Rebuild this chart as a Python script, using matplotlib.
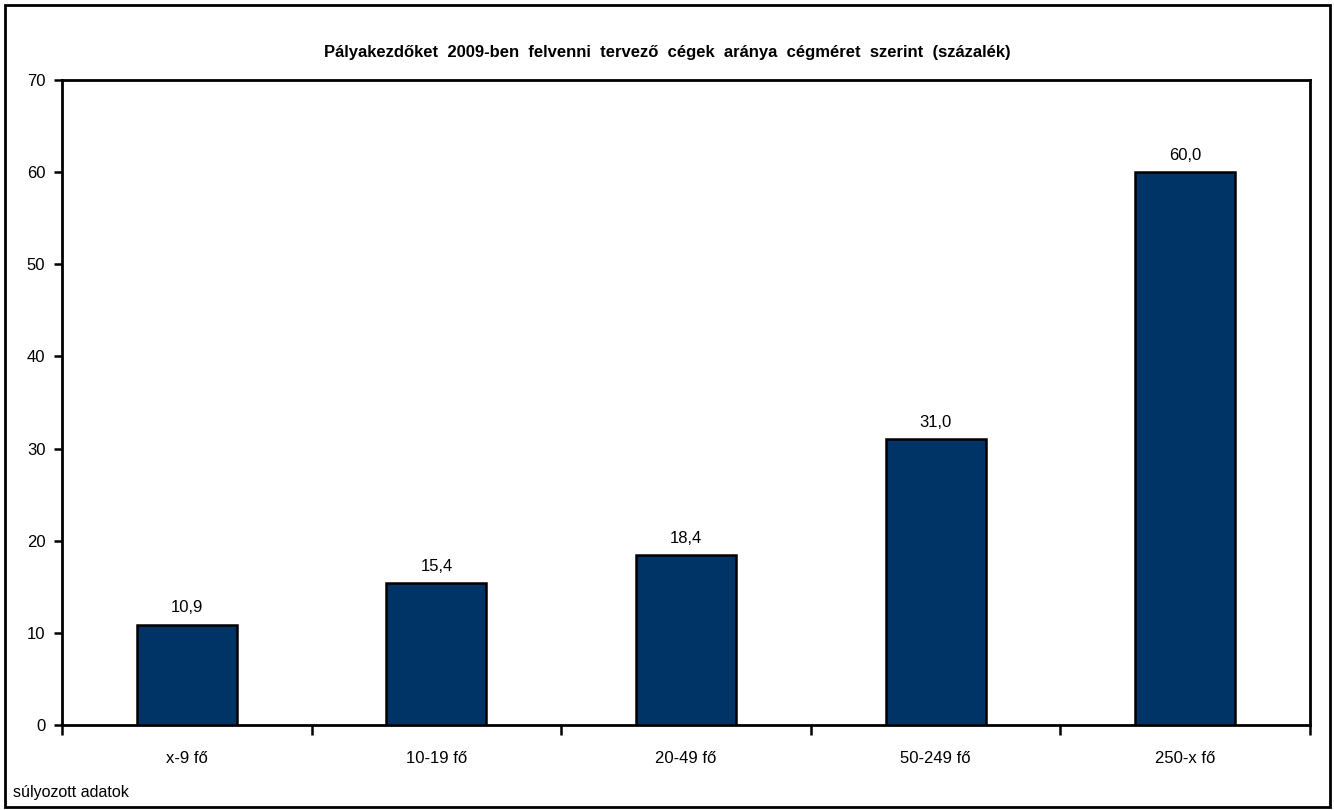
import matplotlib.pyplot as plt
from matplotlib.patches import Rectangle

# -----------------------------
# Data
# -----------------------------
categories = ["x-9 fő", "10-19 fő", "20-49 fő", "50-249 fő", "250-x fő"]
values = [10.9, 15.4, 18.4, 31.0, 60.0]
y_ticks = [0, 10, 20, 30, 40, 50, 60, 70]

title = "Pályakezdőket  2009-ben  felvenni  tervező  cégek  aránya  cégméret  szerint  (százalék)"
footnote = "súlyozott adatok"

plt.rcParams["font.family"] = ["Liberation Sans", "DejaVu Sans"]

# -----------------------------
# Figure & axes
# -----------------------------
W, H = 1334, 810
fig = plt.figure(figsize=(W / 100, H / 100), dpi=100)
ax = fig.add_axes([62 / W, 1 - 725 / H, (1310 - 62) / W, (725 - 80) / H])

x = list(range(len(categories)))
bars = ax.bar(x, values, width=0.4, color="#003366",
              edgecolor="black", linewidth=1.8, zorder=3)

for xi, v in zip(x, values):
    ax.text(xi, v + 1.0, f"{v:.1f}".replace(".", ","),
            ha="center", va="bottom", fontsize=12)

ax.set_xlim(-0.5, len(categories) - 0.5)
ax.set_ylim(0, 70)
ax.set_yticks(y_ticks)
ax.set_yticklabels([str(t) for t in y_ticks], fontsize=12)

# category ticks between bars, labels centered under bars
ax.set_xticks([i - 0.5 for i in range(len(categories) + 1)])
ax.set_xticklabels([])
ax.set_xticks(x, minor=True)
ax.set_xticklabels(categories, minor=True, fontsize=12)
ax.tick_params(axis="x", which="minor", length=0, pad=19)
ax.tick_params(axis="x", which="major", direction="out", length=7, width=1.8)
ax.tick_params(axis="y", direction="out", length=6, width=1.8, pad=6)

for s in ax.spines.values():
    s.set_linewidth(2)
    s.set_color("black")

fig.text(667 / W, 1 - 52 / H, title, ha="center", va="center",
         fontsize=12, fontweight="bold")
fig.text(13 / W, 1 - 793 / H, footnote, ha="left", va="center", fontsize=11.5)

# outer frame
fig.patches.append(Rectangle((5 / W, 3 / H), (1330 - 5) / W, (805 - 3) / H,
                             transform=fig.transFigure, fill=False,
                             edgecolor="black", linewidth=2))

fig.savefig("out.png", dpi=100)
